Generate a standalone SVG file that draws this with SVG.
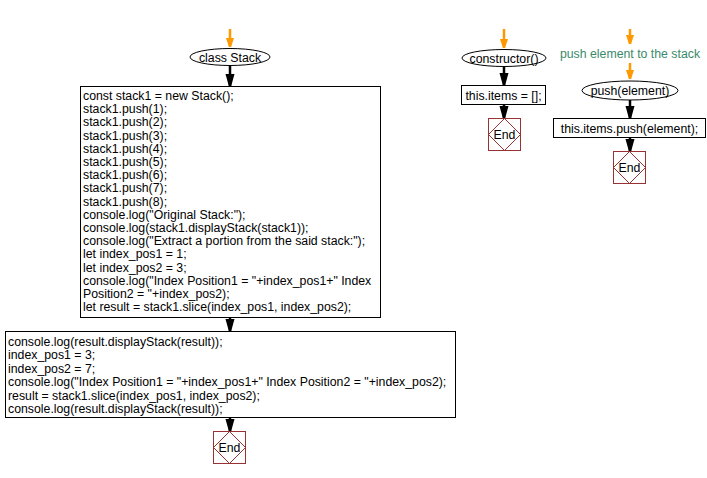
<svg xmlns="http://www.w3.org/2000/svg" width="707" height="478" viewBox="0 0 707 478">
<style>
text{font-family:"Liberation Sans",Arial,sans-serif;font-size:12.3px;fill:#000}
.box{fill:#fff;stroke:#000;stroke-width:1}
.ell{fill:#fff;stroke:#000;stroke-width:1}
.endsq{fill:#fff;stroke:#993333;stroke-width:1}
.enddm{fill:none;stroke:#993333;stroke-width:1}
.c{stroke:#000;stroke-width:2.5;fill:none}
.o{stroke:#ff9900;stroke-width:2.5;fill:none}
.mid{text-anchor:middle}
.cmt{fill:#3a8a6a}
</style>
<defs>
<marker id="ab" markerUnits="userSpaceOnUse" markerWidth="13" markerHeight="10" refX="12" refY="5" orient="auto" viewBox="0 0 13 10">
<path d="M0,0.5 L12,3.8 L12,6.2 L0,9.5 z" fill="#000"/>
</marker>
<marker id="ao" markerUnits="userSpaceOnUse" markerWidth="10" markerHeight="9" refX="9" refY="4.5" orient="auto" viewBox="0 0 10 9">
<path d="M0,0.5 L9,3.5 L9,5.5 L0,8.5 z" fill="#ff9900"/>
</marker>
</defs>
<g id="connectors">
<line class="o" x1="230" y1="29" x2="230" y2="47" marker-end="url(#ao)"/>
<line class="c" x1="230" y1="65" x2="230" y2="86" marker-end="url(#ab)"/>
<line class="c" x1="230" y1="317" x2="230" y2="331" marker-end="url(#ab)"/>
<line class="c" x1="230" y1="417" x2="230" y2="431" marker-end="url(#ab)"/>
<line class="o" x1="504" y1="29" x2="504" y2="48" marker-end="url(#ao)"/>
<line class="c" x1="504" y1="67" x2="504" y2="85" marker-end="url(#ab)"/>
<line class="c" x1="504" y1="104" x2="504" y2="118" marker-end="url(#ab)"/>
<line class="o" x1="630" y1="29" x2="630" y2="44" marker-end="url(#ao)"/>
<line class="o" x1="630" y1="63" x2="630" y2="79" marker-end="url(#ao)"/>
<line class="c" x1="630" y1="100" x2="630" y2="118" marker-end="url(#ab)"/>
<line class="c" x1="630" y1="138" x2="630" y2="151" marker-end="url(#ab)"/>
</g>
<g id="start">
<ellipse class="ell" cx="230" cy="57" rx="40" ry="8.5"/>
<text class="mid" x="230" y="61.5">class Stack</text>
</g>
<g id="main1">
<rect class="box" x="80.5" y="86.5" width="300" height="231"/>
<text x="83" y="100">const stack1 = new Stack();</text>
<text x="83" y="113.2">stack1.push(1);</text>
<text x="83" y="126.4">stack1.push(2);</text>
<text x="83" y="139.6">stack1.push(3);</text>
<text x="83" y="152.8">stack1.push(4);</text>
<text x="83" y="166">stack1.push(5);</text>
<text x="83" y="179.2">stack1.push(6);</text>
<text x="83" y="192.4">stack1.push(7);</text>
<text x="83" y="205.6">stack1.push(8);</text>
<text x="83" y="218.8">console.log("Original Stack:");</text>
<text x="83" y="232">console.log(stack1.displayStack(stack1));</text>
<text x="83" y="245.2">console.log("Extract a portion from the said stack:");</text>
<text x="83" y="258.4">let index_pos1 = 1;</text>
<text x="83" y="271.6">let index_pos2 = 3;</text>
<text x="83" y="284.8">console.log("Index Position1 = "+index_pos1+" Index</text>
<text x="83" y="298">Position2 = "+index_pos2);</text>
<text x="83" y="311.2">let result = stack1.slice(index_pos1, index_pos2);</text>
</g>
<g id="main2">
<rect class="box" x="5.5" y="331.5" width="450" height="86"/>
<text x="8" y="346">console.log(result.displayStack(result));</text>
<text x="8" y="359.4">index_pos1 = 3;</text>
<text x="8" y="372.8">index_pos2 = 7;</text>
<text x="8" y="386.2">console.log("Index Position1 = "+index_pos1+" Index Position2 = "+index_pos2);</text>
<text x="8" y="399.6">result = stack1.slice(index_pos1, index_pos2);</text>
<text x="8" y="413">console.log(result.displayStack(result));</text>
</g>
<g id="end1">
<rect class="endsq" x="213.5" y="431.5" width="32" height="32"/>
<path class="enddm" d="M229.5,431.5 L245.5,447.5 L229.5,463.5 L213.5,447.5 z"/>
<text class="mid" x="229.5" y="452">End</text>
</g>
<g id="ctor">
<ellipse class="ell" cx="504" cy="58" rx="42" ry="8.5"/>
<text class="mid" x="504" y="62.5">constructor()</text>
</g>
<g id="ctorbody">
<rect class="box" x="461.5" y="85.5" width="84" height="19"/>
<text class="mid" x="503.5" y="99.5">this.items = [];</text>
</g>
<g id="end2">
<rect class="endsq" x="488.5" y="118.5" width="32" height="32"/>
<path class="enddm" d="M504.5,118.5 L520.5,134.5 L504.5,150.5 L488.5,134.5 z"/>
<text class="mid" x="504.5" y="139">End</text>
</g>
<g id="pushcomment">
<text class="mid cmt" x="630" y="57.5">push element to the stack</text>
</g>
<g id="push">
<ellipse class="ell" cx="630" cy="90.5" rx="48" ry="9.5"/>
<text class="mid" x="630" y="95">push(element)</text>
</g>
<g id="pushbody">
<rect class="box" x="553.5" y="118.5" width="152" height="19"/>
<text class="mid" x="629.5" y="132.5">this.items.push(element);</text>
</g>
<g id="end3">
<rect class="endsq" x="613.5" y="151.5" width="32" height="32"/>
<path class="enddm" d="M629.5,151.5 L645.5,167.5 L629.5,183.5 L613.5,167.5 z"/>
<text class="mid" x="629.5" y="172">End</text>
</g>
</svg>
